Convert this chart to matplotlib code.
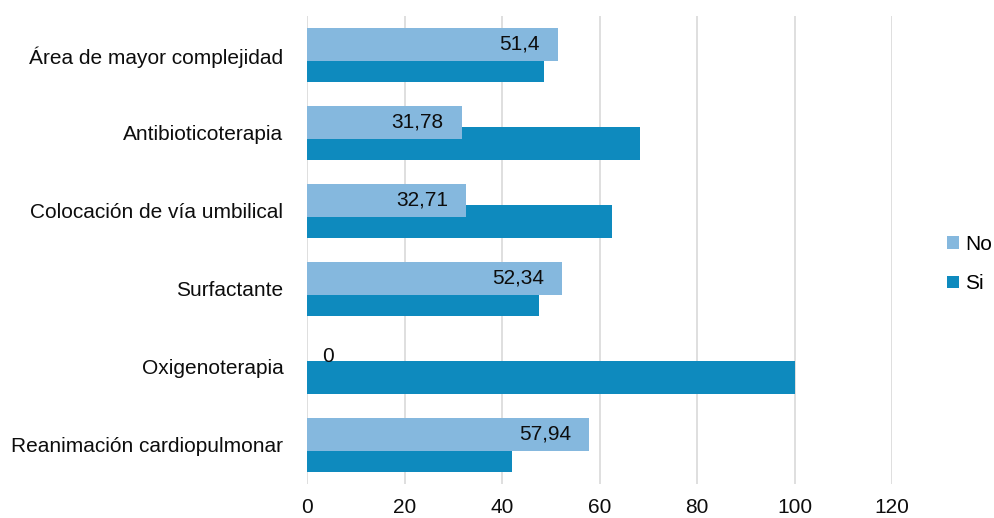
import matplotlib.pyplot as plt
import numpy as np

plt.rcParams['font.family'] = ['Liberation Sans', 'DejaVu Sans']

categorias = ['Área de mayor complejidad', 'Antibioticoterapia', 'Colocación de vía umbilical',
              'Surfactante', 'Oxigenoterapia', 'Reanimación cardiopulmonar']
no_vals = [51.4, 31.78, 32.71, 52.34, 0, 57.94]
si_vals = [48.6, 68.22, 62.6, 47.66, 100, 42.06]
etiquetas_no = ['51,4', '31,78', '32,71', '52,34', '0', '57,94']

col_no = '#85b8de'
col_si = '#0e8abe'
fs = 15
txt = '#0d0d0d'

fig = plt.figure(figsize=(9.94, 5.18), dpi=100)
ax = fig.add_axes([307/994, 1 - 484/518, (892-307)/994, (484-16)/518])

y = np.arange(len(categorias))[::-1]
h = 0.43
off = 0.135

ax.barh(y - off, si_vals, height=h, color=col_si, label='Si', zorder=2)
ax.barh(y + off, no_vals, height=h, color=col_no, label='No', zorder=3)

# etiquetas de la serie "No" dentro del extremo de la barra
for yi, v, t in zip(y, no_vals, etiquetas_no):
    if v == 0:
        ax.annotate(t, (v, yi + off), xytext=(11, 0), textcoords='offset points',
                    ha='left', va='center', fontsize=fs, color=txt, zorder=4)
    else:
        ax.annotate(t, (v, yi + off), xytext=(-13, 0), textcoords='offset points',
                    ha='right', va='center', fontsize=fs, color=txt, zorder=4)

ax.set_xlim(0, 120)
ax.set_ylim(-0.5, len(categorias) - 0.5)
ax.set_xticks(np.arange(0, 121, 20))
ax.set_yticks(y)
ax.set_yticklabels(categorias)
ax.tick_params(axis='both', length=0, labelsize=fs, colors=txt)
ax.tick_params(axis='y', pad=17)
ax.tick_params(axis='x', pad=10)
ax.grid(axis='x', color='#d9d9d9', linewidth=1.2, zorder=0)
for s in ax.spines.values():
    s.set_visible(False)

handles, labels = ax.get_legend_handles_labels()
fig.legend(handles[::-1], labels[::-1], loc='center left', bbox_to_anchor=(947/994, 1 - 264/518),
           frameon=False, fontsize=fs, handlelength=0.56, handleheight=0.56,
           handletextpad=0.3, labelspacing=1.0, borderaxespad=0, borderpad=0)

plt.savefig('out.png', dpi=100)
